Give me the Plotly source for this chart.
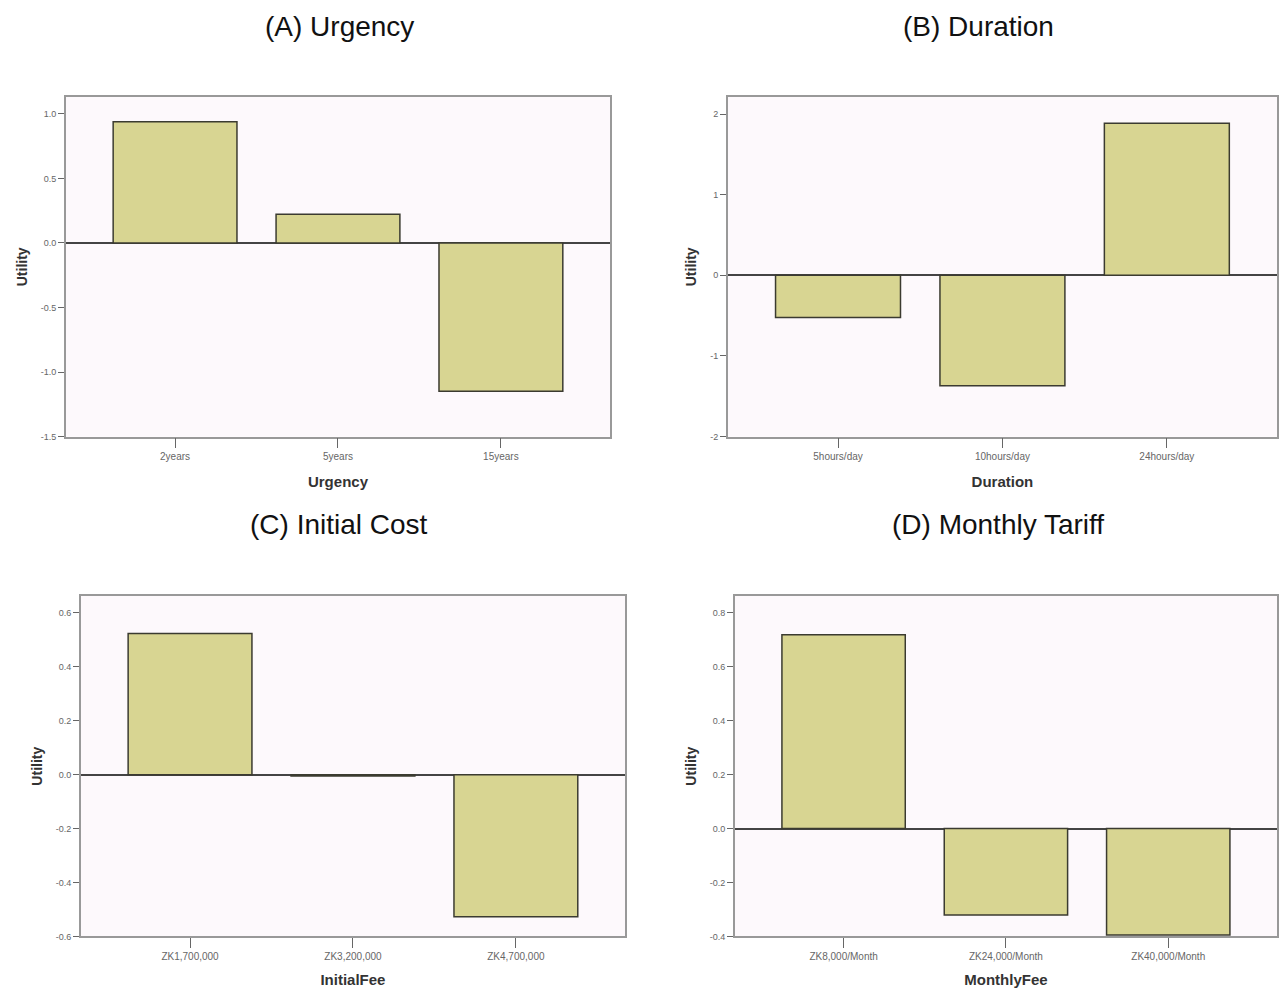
import plotly.graph_objects as go

# data
urgency_levels = ["2years", "5years", "15years"]
urgency_utility = [0.939, 0.222, -1.148]
urgency_ticks = [-1.5, -1.0, -0.5, 0.0, 0.5, 1.0]
urgency_ticktext = ["-1.5", "-1.0", "-0.5", "0.0", "0.5", "1.0"]

duration_levels = ["5hours/day", "10hours/day", "24hours/day"]
duration_utility = [-0.523, -1.37, 1.886]
duration_ticks = [-2, -1, 0, 1, 2]
duration_ticktext = ["-2", "-1", "0", "1", "2"]

initial_fee_levels = ["ZK1,700,000", "ZK3,200,000", "ZK4,700,000"]
initial_fee_utility = [0.524, -0.005, -0.527]
initial_fee_ticks = [-0.6, -0.4, -0.2, 0.0, 0.2, 0.4, 0.6]
initial_fee_ticktext = ["-0.6", "-0.4", "-0.2", "0.0", "0.2", "0.4", "0.6"]

monthly_fee_levels = ["ZK8,000/Month", "ZK24,000/Month", "ZK40,000/Month"]
monthly_fee_utility = [0.718, -0.321, -0.395]
monthly_fee_ticks = [-0.4, -0.2, 0.0, 0.2, 0.4, 0.6, 0.8]
monthly_fee_ticktext = ["-0.4", "-0.2", "0.0", "0.2", "0.4", "0.6", "0.8"]

# page body adds an 8px margin, so the figure is drawn slightly smaller
OFF = 8
W, H = 1287 - 2 * OFF, 996 - 2 * OFF
FONT = "Liberation Sans, Arial, sans-serif"
BAR_FILL = "#D8D592"
BAR_EDGE = "#3b3b30"
PLOT_BG = "#FDF9FC"

# panel boxes in page pixels: (left, right, top, bottom)
panels = [
    dict(title="(A) Urgency", cats=urgency_levels, vals=urgency_utility,
         xtitle="Urgency", yrange=[-1.5, 1.13],
         tv=urgency_ticks, tt=urgency_ticktext,
         box=(66, 611, 98, 441), title_xy=(340, 27)),
    dict(title="(B) Duration", cats=duration_levels, vals=duration_utility,
         xtitle="Duration", yrange=[-2, 2.21],
         tv=duration_ticks, tt=duration_ticktext,
         box=(729, 1279, 98, 441), title_xy=(980, 27)),
    dict(title="(C) Initial Cost", cats=initial_fee_levels, vals=initial_fee_utility,
         xtitle="InitialFee", yrange=[-0.6, 0.663],
         tv=initial_fee_ticks, tt=initial_fee_ticktext,
         box=(81, 626, 602, 946), title_xy=(340, 530)),
    dict(title="(D) Monthly Tariff", cats=monthly_fee_levels, vals=monthly_fee_utility,
         xtitle="MonthlyFee", yrange=[-0.4, 0.862],
         tv=monthly_fee_ticks, tt=monthly_fee_ticktext,
         box=(736, 1279, 602, 946), title_xy=(1000, 530)),
]


def px_x(v):
    return min(max((v - OFF) / W, 0), 1)


def px_y(v):
    return min(max(1 - (v - OFF) / H, 0), 1)


fig = go.Figure()
layout = {}
for i, p in enumerate(panels, start=1):
    xa = "x" if i == 1 else f"x{i}"
    ya = "y" if i == 1 else f"y{i}"
    fig.add_trace(
        go.Bar(
            x=p["cats"],
            y=p["vals"],
            xaxis=xa,
            yaxis=ya,
            width=0.76,
            marker=dict(color=BAR_FILL, line=dict(color=BAR_EDGE, width=1.5)),
            showlegend=False,
        )
    )
    l, r, t, b = p["box"]
    suffix = "" if i == 1 else str(i)
    layout["xaxis" + suffix] = dict(
        domain=[px_x(l), px_x(r)],
        anchor=ya,
        type="category",
        range=[-0.67, 2.67],
        showline=True, mirror=True, linecolor="#999", linewidth=1.5,
        ticks="outside", ticklen=10, tickcolor="#666", tickwidth=1,
        tickfont=dict(size=10, color="#666", family=FONT),
        showgrid=False,
        title=dict(text=f"<b>{p['xtitle']}</b>", font=dict(size=15, color="#333", family=FONT),
                   standoff=15),
    )
    layout["yaxis" + suffix] = dict(
        domain=[px_y(b), px_y(t)],
        anchor=xa,
        range=p["yrange"],
        tickmode="array",
        tickvals=p["tv"],
        ticktext=p["tt"],
        showline=True, mirror=True, linecolor="#999", linewidth=1.5,
        ticks="outside", ticklen=6, tickcolor="#666", tickwidth=1,
        tickfont=dict(size=9, color="#666", family=FONT),
        showgrid=False,
        zeroline=True, zerolinecolor="#444", zerolinewidth=1.5,
        title=dict(text="<b>Utility</b>", font=dict(size=14, color="#333", family=FONT),
                   standoff=10),
    )
    tx, ty = p["title_xy"]
    fig.add_annotation(
        text=p["title"], x=px_x(tx), y=px_y(ty), xref="paper", yref="paper",
        xanchor="center", yanchor="middle", showarrow=False,
        font=dict(size=28, color="#111", family=FONT),
    )

fig.update_layout(
    width=W,
    height=H,
    margin=dict(l=0, r=0, t=0, b=0),
    paper_bgcolor="white",
    plot_bgcolor=PLOT_BG,
    font=dict(family=FONT),
    **layout,
)

fig.write_html("out.html")
